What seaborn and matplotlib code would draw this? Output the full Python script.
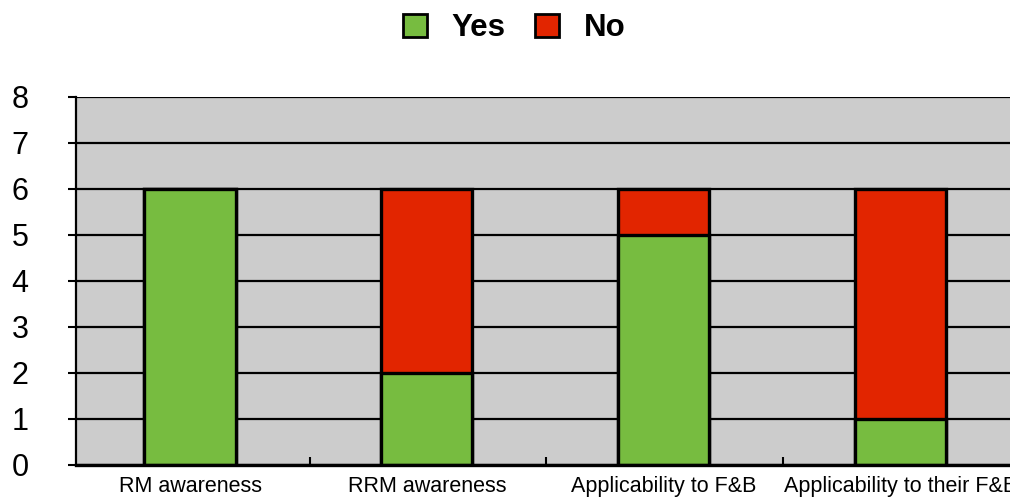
import matplotlib
matplotlib.use("Agg")
import matplotlib.pyplot as plt
from matplotlib.patches import Patch
import seaborn as sns
import pandas as pd

categories = ["RM awareness", "RRM awareness", "Applicability to F&B", "Applicability to their F&B"]
yes_counts = [6, 2, 5, 1]
no_counts = [0, 4, 1, 5]
y_ticks = [0, 1, 2, 3, 4, 5, 6, 7, 8]

green = "#77bc40"
red = "#e22500"

sns.set_theme(style="white")
plt.rcParams["font.family"] = ["Liberation Sans", "DejaVu Sans"]
plt.rcParams["text.color"] = "black"

df = pd.DataFrame({
    "category": categories,
    "yes": yes_counts,
    "total": [y + n for y, n in zip(yes_counts, no_counts)],
})

fig = plt.figure(figsize=(10.10, 4.98), dpi=100)
ax = fig.add_axes([0.0752, 0.0663, 0.937, 0.739])
ax.set_facecolor("#cccccc")

# stacked bars: full height in red, "Yes" portion drawn over it in green
sns.barplot(data=df, x="category", y="total", color=red, width=0.385,
            edgecolor="black", linewidth=2.4, saturation=1, ax=ax, zorder=3)
sns.barplot(data=df, x="category", y="yes", color=green, width=0.385,
            edgecolor="black", linewidth=2.4, saturation=1, ax=ax, zorder=4)

ax.set_xlim(-0.482, 3.515)
ax.set_ylim(0, 8)
ax.set_yticks(y_ticks)
ax.set_yticklabels([str(t) for t in y_ticks], fontsize=22)
ax.set_xlabel("")
ax.set_ylabel("")
ax.tick_params(axis="x", labelsize=15.5, length=0, pad=8, colors="black")
ax.tick_params(axis="y", length=6, width=1.5, direction="out", pad=28,
               colors="black", left=True)
ax.set_xticks([0.505, 1.505, 2.505], minor=True)
ax.tick_params(axis="x", which="minor", direction="in", length=6, width=1.5,
               color="black", bottom=True)

ax.yaxis.grid(True, color="black", linewidth=1.6, zorder=1)
ax.set_axisbelow(True)
for side in ["top", "right"]:
    ax.spines[side].set_visible(False)
ax.spines["left"].set_color("black")
ax.spines["left"].set_linewidth(1.6)
ax.spines["bottom"].set_color("black")
ax.spines["bottom"].set_linewidth(2.4)
ax.spines["bottom"].set_zorder(5)

handles = [Patch(facecolor=green, edgecolor="black", linewidth=2.0, label="Yes"),
           Patch(facecolor=red, edgecolor="black", linewidth=2.0, label="No")]
fig.legend(handles=handles, loc="center", bbox_to_anchor=(0.509, 0.943),
           ncol=2, frameon=False, prop={"weight": "bold", "size": 22.5},
           handlelength=0.77, handleheight=0.77, handletextpad=0.8,
           columnspacing=0.93, borderpad=0.1)

fig.savefig("out.png", dpi=100)
